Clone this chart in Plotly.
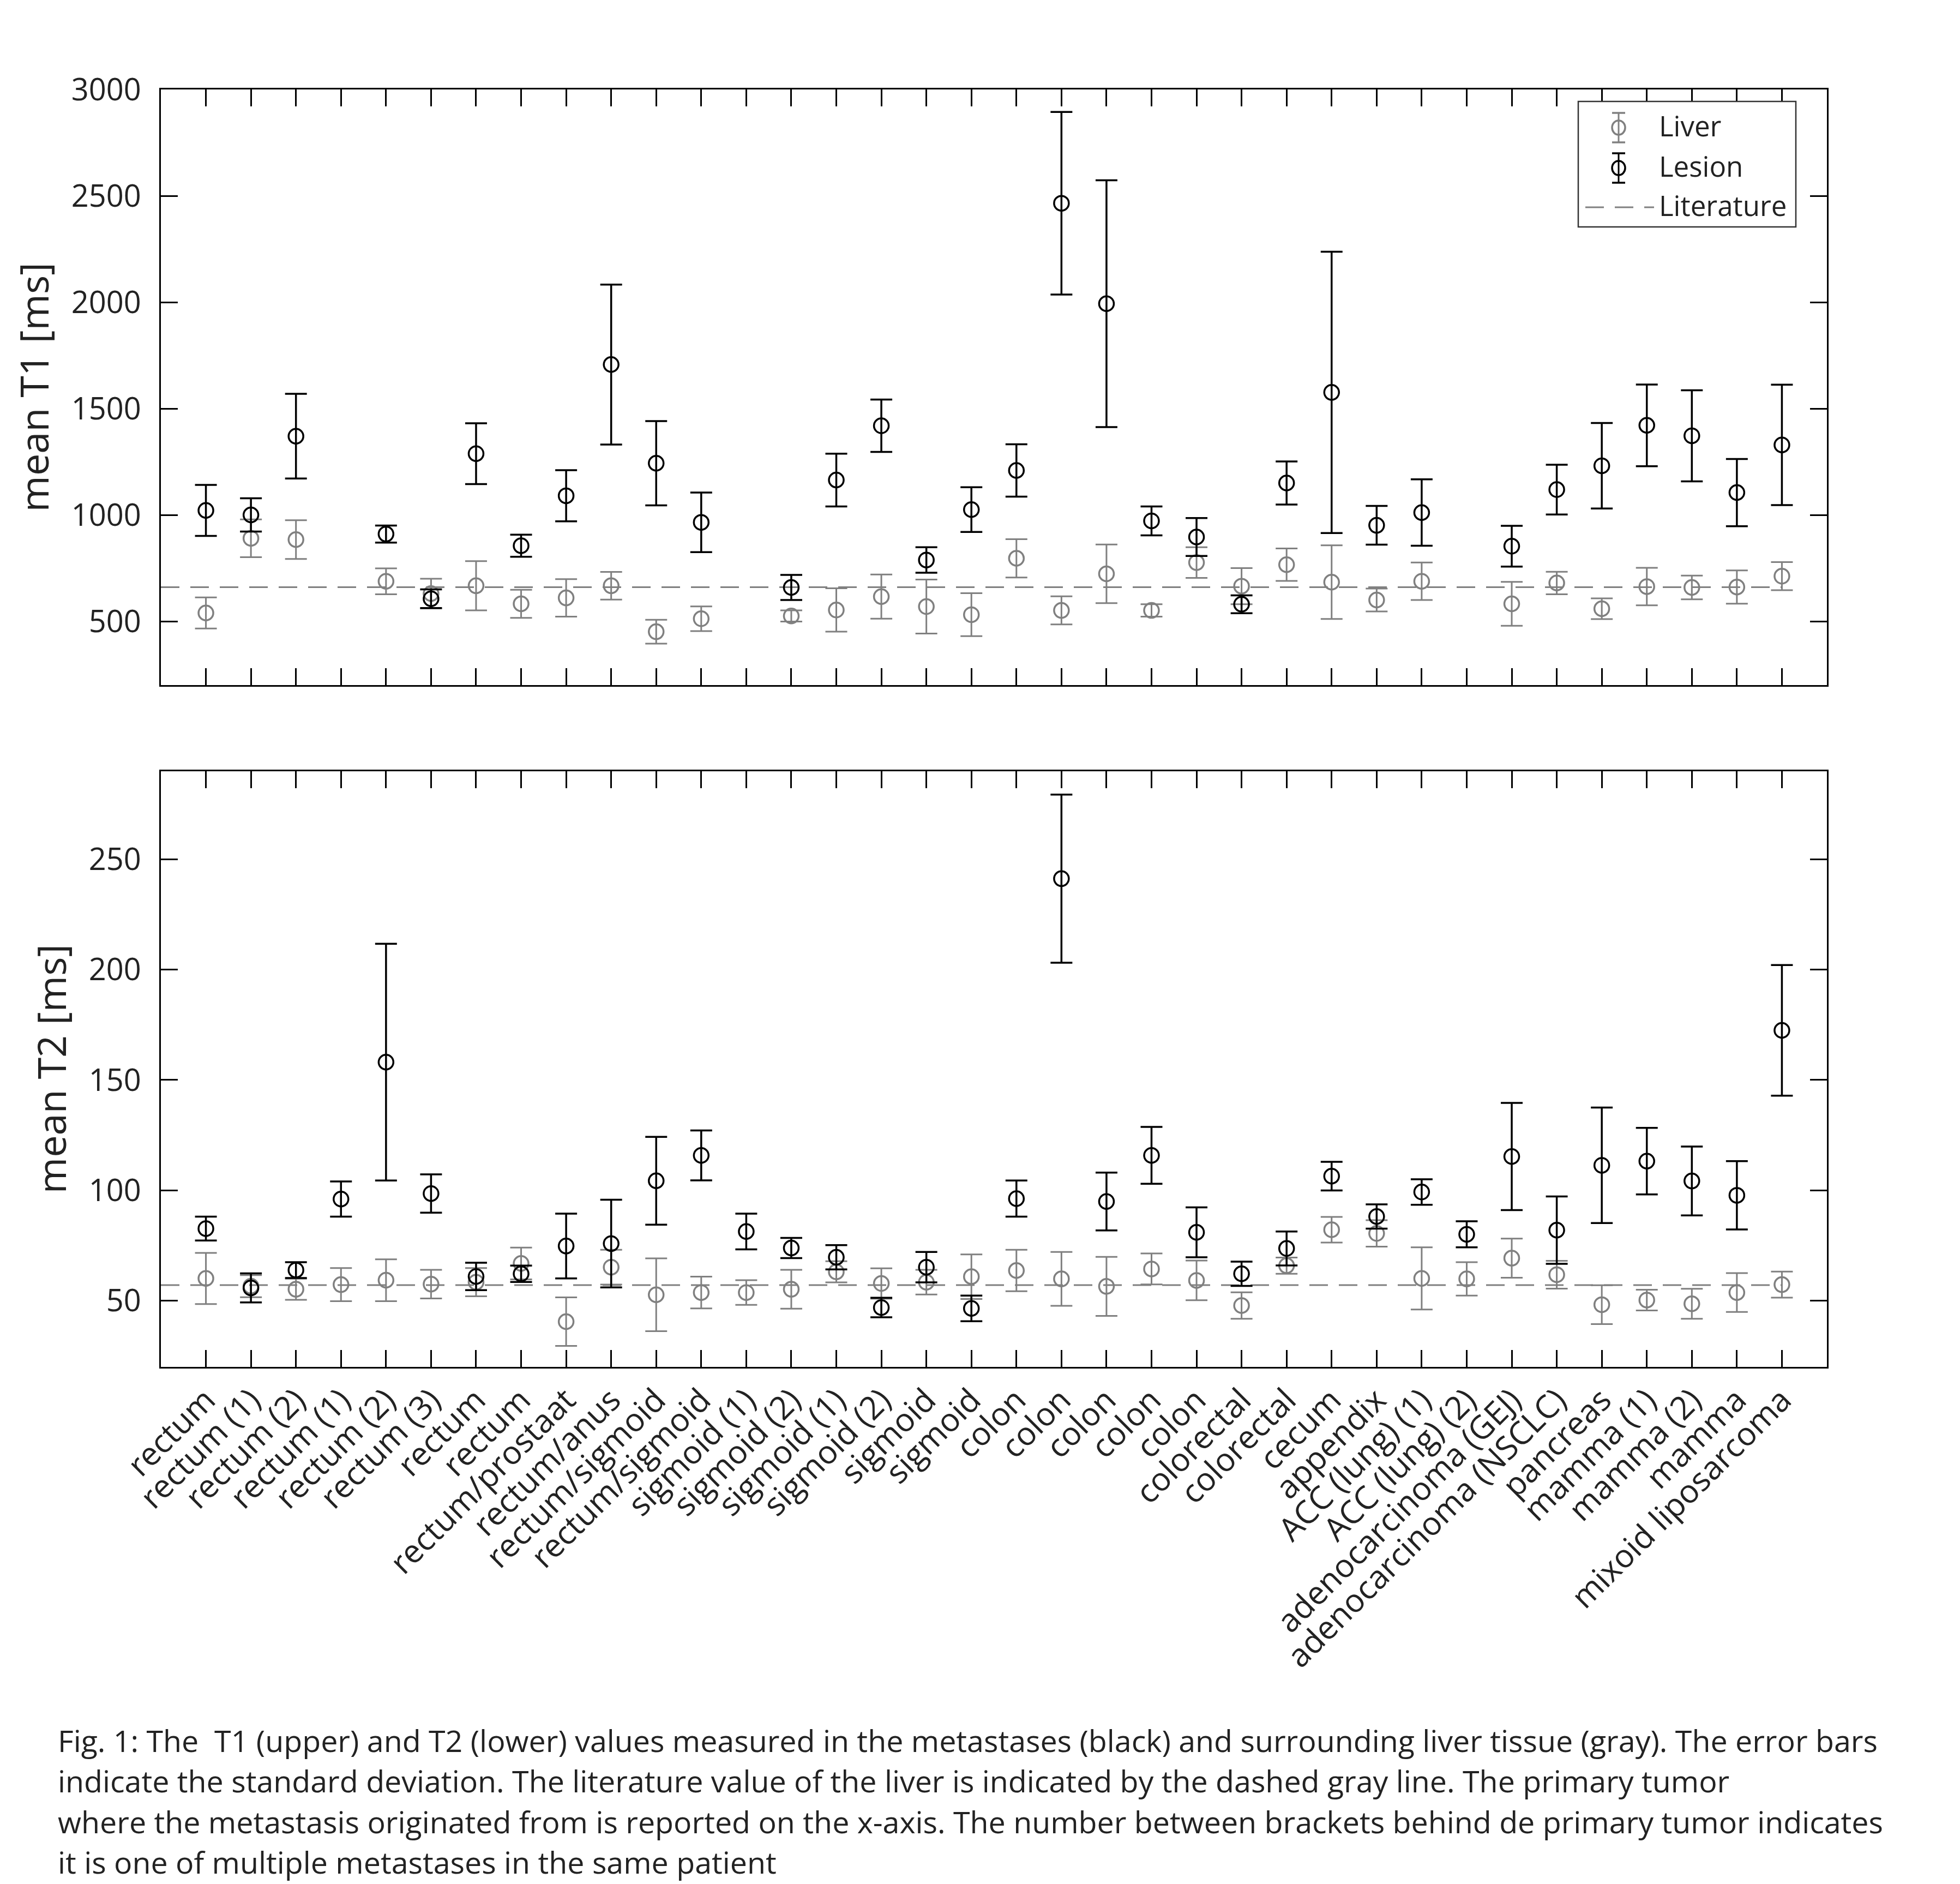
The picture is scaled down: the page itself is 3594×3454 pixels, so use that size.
import plotly.graph_objects as go

# ---------------- data ----------------
categories = [
    "rectum", "rectum (1)", "rectum (2)", "rectum (1)", "rectum (2)", "rectum (3)",
    "rectum", "rectum", "rectum/prostaat", "rectum/anus", "rectum/sigmoid", "rectum/sigmoid",
    "sigmoid (1)", "sigmoid (2)", "sigmoid (1)", "sigmoid (2)", "sigmoid", "sigmoid",
    "colon", "colon", "colon", "colon", "colon", "colorectal", "colorectal", "cecum",
    "appendix", "ACC (lung) (1)", "ACC (lung) (2)", "adenocarcinoma (GEJ)",
    "adenocarcinoma (NSCLC)", "pancreas", "mamma (1)", "mamma (2)", "mamma",
    "mixoid liposarcoma",
]

t1_lesion_mean = [1021, 1000, 1370, None, 910, 606, 1288, 855, 1090, 1707, 1243, 965,
                  None, 659, 1164, 1419, 788, 1025, 1209, 2465, 1993, 972, 896, 580,
                  1150, 1576, 951, 1011, None, 853, 1119, 1231, 1421, 1372, 1105, 1329]
t1_lesion_sd = [120, 78, 199, None, 40, 44, 143, 52, 120, 376, 198, 140,
                None, 59, 124, 123, 60, 105, 123, 429, 580, 68, 89, 42,
                101, 661, 91, 156, None, 96, 117, 201, 192, 214, 158, 283]
t1_liver_mean = [539, 890, 884, None, 688, 630, 667, 582, 610, 667, 451, 512,
                 None, 525, 553, 616, 569, 531, 796, 551, 723, 551, 776, 665,
                 766, 684, 600, 688, None, 582, 680, 559, 663, 659, 661, 712]
t1_liver_sd = [73, 89, 91, None, 61, 70, 116, 66, 88, 65, 56, 58,
               None, 26, 102, 104, 127, 101, 90, 66, 138, 29, 72, 85,
               76, 173, 54, 88, None, 103, 53, 49, 88, 56, 78, 66]

t2_lesion_mean = [82.6, 55.7, 63.8, 96.0, 158.1, 98.5, 60.9, 62.1, 74.7, 75.8, 104.3, 115.8,
                  81.3, 73.8, 69.6, 46.8, 65.1, 46.4, 96.2, 241.3, 94.9, 115.8, 80.9, 62.1,
                  73.6, 106.4, 88.1, 99.2, 80.0, 115.3, 81.9, 111.3, 113.2, 104.2, 97.7, 172.5]
t2_lesion_sd = [5.4, 6.6, 3.6, 8.0, 53.7, 8.7, 6.2, 3.7, 14.7, 19.9, 19.9, 11.3,
                8.1, 4.6, 5.5, 4.4, 6.9, 5.8, 8.2, 38.1, 13.1, 12.9, 11.3, 5.5,
                7.7, 6.5, 5.5, 5.8, 5.9, 24.3, 15.3, 26.2, 15.1, 15.6, 15.5, 29.6]
t2_liver_mean = [60.0, 56.5, 55.1, 57.2, 59.2, 57.4, 58.3, 66.8, 40.4, 65.1, 52.6, 53.6,
                 53.6, 55.1, 63.0, 57.7, 58.3, 60.8, 63.6, 59.8, 56.4, 64.3, 59.1, 47.7,
                 65.8, 82.1, 80.4, 60.0, 59.8, 69.2, 61.7, 48.1, 50.2, 48.5, 53.6, 57.2]
t2_liver_sd = [11.6, 5.0, 4.8, 7.5, 9.5, 6.5, 6.4, 7.2, 11.0, 7.9, 16.5, 7.2,
               5.6, 8.8, 4.8, 6.9, 5.6, 10.1, 9.4, 12.2, 13.4, 7.0, 9.0, 6.0,
               3.7, 5.8, 6.0, 14.1, 7.6, 8.9, 6.3, 8.8, 4.7, 6.8, 8.8, 5.9]

literature_t1 = 660
literature_t2 = 57

t1_ticks = [500, 1000, 1500, 2000, 2500, 3000]
t2_ticks = [50, 100, 150, 200, 250]

legend_labels = ["Liver", "Lesion", "Literature"]

caption_lines = [
    "Fig. 1: The  T1 (upper) and T2 (lower) values measured in the metastases (black) and surrounding liver tissue (gray). The error bars",
    "indicate the standard deviation. The literature value of the liver is indicated by the dashed gray line. The primary tumor",
    "where the metastasis originated from is reported on the x-axis. The number between brackets behind de primary tumor indicates",
    "it is one of multiple metastases in the same patient",
]

# ---------------- styling ----------------
W, H = 3594, 3454
FONT = "Open Sans"
TXT = "#222222"
GRAY = "#808080"
BLACK = "#000000"
DASH = "34px,20px"
x_pos = list(range(1, len(categories) + 1))

fig = go.Figure()


def add_panel(xa, ya, lit, lesion_m, lesion_s, liver_m, liver_s):
    fig.add_trace(go.Scatter(
        x=[0, len(categories)], y=[lit, lit], mode="lines", name="Literature",
        line=dict(color=GRAY, width=3, dash=DASH),
        xaxis=xa, yaxis=ya, showlegend=False, hoverinfo="skip"))
    fig.add_trace(go.Scatter(
        x=x_pos, y=liver_m, mode="markers", name="Liver",
        marker=dict(symbol="circle-open", size=27, color=GRAY, line=dict(width=3.5, color=GRAY)),
        error_y=dict(type="data", array=liver_s, symmetric=True, color=GRAY, thickness=3, width=20),
        xaxis=xa, yaxis=ya, showlegend=False))
    fig.add_trace(go.Scatter(
        x=x_pos, y=lesion_m, mode="markers", name="Lesion",
        marker=dict(symbol="circle-open", size=27, color=BLACK, line=dict(width=3.5, color=BLACK)),
        error_y=dict(type="data", array=lesion_s, symmetric=True, color=BLACK, thickness=3.5, width=20),
        xaxis=xa, yaxis=ya, showlegend=False))


add_panel("x", "y", literature_t1, t1_lesion_mean, t1_lesion_sd, t1_liver_mean, t1_liver_sd)
add_panel("x2", "y2", literature_t2, t2_lesion_mean, t2_lesion_sd, t2_liver_mean, t2_liver_sd)

xdom = [287 / W, 3342 / W]
top_dom = [1 - 1248 / H, 1 - 156 / H]
bot_dom = [1 - 2497.5 / H, 1 - 1406 / H]

common_x = dict(range=[0, len(categories) + 1], tickvals=x_pos, ticks="inside", ticklen=31,
                tickwidth=2.5, tickcolor=BLACK, mirror="ticks", showline=True, linecolor=BLACK,
                linewidth=3, showgrid=False, zeroline=False, domain=xdom, automargin=False)
common_y = dict(ticks="inside", ticklen=31, tickwidth=2.5, tickcolor=BLACK, mirror="ticks",
                showline=True, linecolor=BLACK, linewidth=3, showgrid=False, zeroline=False,
                tickfont=dict(family=FONT, size=56, color=TXT), ticklabelstandoff=22,
                automargin=False)

fig.update_layout(
    template="none",
    width=W, height=H, paper_bgcolor="white", plot_bgcolor="white",
    margin=dict(l=0, r=0, t=0, b=0, pad=0),
    font=dict(family=FONT, color=TXT),
    showlegend=False,
    xaxis=dict(**common_x, anchor="y", showticklabels=False),
    xaxis2=dict(**common_x, anchor="y2", showticklabels=True, ticktext=categories,
                tickangle=-45, tickfont=dict(family=FONT, size=59, color=TXT)),
    yaxis=dict(**common_y, domain=top_dom, anchor="x", range=[200, 3000], tickvals=t1_ticks,
               title=dict(text="mean T1 [ms]", font=dict(family=FONT, size=72, color=TXT), standoff=18)),
    yaxis2=dict(**common_y, domain=bot_dom, anchor="x2", range=[20, 290], tickvals=t2_ticks,
                title=dict(text="mean T2 [ms]", font=dict(family=FONT, size=72, color=TXT), standoff=18)),
)


# ---------------- legend box (drawn in paper space, pixel helpers) ----------------
def px(xp):
    return xp / W


def py(yp):
    return 1 - yp / H


box = dict(x0=2886, x1=3285, y0=178, y1=408)
fig.add_shape(type="rect", xref="paper", yref="paper",
              x0=px(box["x0"]), x1=px(box["x1"]), y0=py(box["y0"]), y1=py(box["y1"]),
              line=dict(color="#333333", width=2.5), fillcolor="white", layer="above")
row_y = [226, 300, 372]
sym_x, text_x = 2960, 3032
sym_colors = [GRAY, BLACK]
for ry, col in zip(row_y[:2], sym_colors):
    fig.add_shape(type="line", xref="paper", yref="paper", x0=px(sym_x), x1=px(sym_x),
                  y0=py(ry - 27), y1=py(ry + 27), line=dict(color=col, width=3), layer="above")
    for cy in (ry - 27, ry + 27):
        fig.add_shape(type="line", xref="paper", yref="paper", x0=px(sym_x - 12), x1=px(sym_x + 12),
                      y0=py(cy), y1=py(cy), line=dict(color=col, width=3.5), layer="above")
    fig.add_shape(type="circle", xref="paper", yref="paper",
                  x0=px(sym_x - 12), x1=px(sym_x + 12), y0=py(ry - 13), y1=py(ry + 13),
                  line=dict(color=col, width=3.5), fillcolor="rgba(0,0,0,0)", layer="above")
fig.add_shape(type="line", xref="paper", yref="paper", x0=px(2899), x1=px(3025),
              y0=py(row_y[2]), y1=py(row_y[2]), line=dict(color=GRAY, width=3, dash=DASH),
              layer="above")
for lbl, ry in zip(legend_labels, row_y):
    fig.add_annotation(text=lbl, xref="paper", yref="paper", x=px(text_x), y=py(ry - 4),
                       xanchor="left", yanchor="middle", showarrow=False,
                       font=dict(family=FONT, size=51, color=TXT))

line_y = [3182, 3256, 3331, 3405]
for txt, yy in zip(caption_lines, line_y):
    fig.add_annotation(text=txt, xref="paper", yref="paper", x=px(96), y=py(yy),
                       xanchor="left", yanchor="middle", showarrow=False,
                       font=dict(family=FONT, size=55.5, color=TXT))

fig.write_html("out.html")
